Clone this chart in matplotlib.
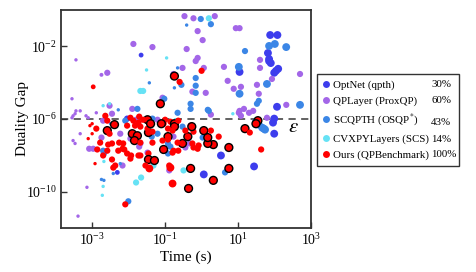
import matplotlib
matplotlib.use("Agg")
import matplotlib.pyplot as plt
from matplotlib.lines import Line2D
from matplotlib.ticker import NullLocator, FixedLocator, LogFormatterSciNotation

plt.rcParams['font.family'] = ['Liberation Serif', 'DejaVu Serif']
plt.rcParams['mathtext.fontset'] = 'stix'
plt.rcParams['axes.unicode_minus'] = False

S, M, L = 6, 20, 32

# ---------------- data ----------------
optnet_time = [2.2e-2, 76, 120, 66, 71, 79, 98, 126, 11, 117, 98, 91, 98, 3.4, 27.5, 1.15, 4.9e-3, 9.1e-3, 71, 110]
optnet_gap = [3.3e-3, 4.2e-2, 4.2e-2, 4.3e-3, 2.0e-3, 1.2e-3, 3.5e-4, 5.8e-4, 3.9e-4, 4.7e-6, 1.05e-6, 6.3e-7,
              1.55e-7, 9.8e-9, 2.45e-9, 8.9e-10, 1.15e-9, 1.05e-6, 1.55e-3, 4.5e-4]
optnet_size = [12, L, L, L, L, L, L, L, L, L, L, L, L, L, L, L, 12, M, L, L]

qplayer_time = [3.4e-1, 6.0e-1, 2.3, 8.7, 11, 7.8e-1, 1.07, 3.9e-1, 1.35e-2, 4.5e-2, 3.6e-4, 7.8e-1, 6.9e-1,
                2.6e-3, 1.8e-3, 3.0e-1, 1.7e-1, 1.15, 4.1, 40, 40, 500, 5.2, 7.6, 12, 33, 85, 37, 5.6e-1, 1.3,
                2.8e-4, 26, 11, 14.5, 10.5, 12, 20, 210, 1.8, 62, 29, 3.0e-3, 3.0e-4, 3.4e-4, 4.7e-4, 3.6e-4,
                2.8e-4, 6.8e-4, 7.8e-4, 1.3e-3, 3.5e-3, 1.26e-2, 2.0e-3, 5.9e-3, 1.12e-2, 4.7e-4, 3.0e-4, 3.4e-4,
                1.8e-3, 1.07e-3, 8.3e-4, 2.1e-2, 6.2e-2, 1.7e-1, 4.7e-1, 3.6e-1, 1.95e-2, 3.3e-2, 1.3e-1, 6.8e-3,
                7.2e-4, 4.1e-4, 8.5e-2, 1.6e-2]
qplayer_gap = [4.6e-1, 3.5e-1, 4.6e-1, 1e-1, 1e-1, 6.9e-2, 2.2e-2, 7.1e-3, 1.35e-2, 9.1e-3, 1.8e-3, 2.3e-3,
               1.55e-3, 3.5e-4, 2.7e-4, 6.5e-4, 3.0e-4, 6.5e-4, 7.4e-4, 1.8e-3, 6.5e-4, 3.0e-4, 1.26e-4, 4.6e-5,
               5.9e-5, 7.6e-5, 1.6e-4, 2.45e-5, 3.2e-5, 2.75e-5, 1.3e-5, 2.8e-6, 2.8e-6, 3.6e-6, 2.2e-6, 1.5e-6,
               2.2e-6, 6.0e-6, 1.74e-6, 1.17e-6, 5.5e-7, 5.4e-6, 1.5e-6, 1.95e-6, 2.8e-6, 2.8e-6, 1.17e-6, 1.5e-6,
               1.17e-6, 2.2e-6, 1.95e-6, 3.6e-6, 8.1e-7, 1.55e-7, 8.3e-8, 1.55e-7, 6.5e-8, 4.5e-8, 9.5e-8, 2.3e-8,
               2.3e-8, 4.5e-8, 9.1e-7, 1.07e-7, 4.5e-8, 2.7e-8, 3.0e-8, 1.41e-8, 1.48e-9, 2.75e-9, 1.74e-10,
               4.5e-12, 1.48e-5, 9.1e-7]
qplayer_size = [M, M, M, M, M, M, M, M, M, M, S, M, M, M, 8, M, M, M, M, M, M, M, M, M, M, M, M, M, M, M,
                S, M, M, M, M, M, M, M, M, M, M, M, S, S, S, S, S, S, S, S, M, M, M, M, M, S, S, S,
                M, M, M, M, M, M, M, M, M, M, M, M, S, S, M, M]

scqpth_time = [3.9e-1, 9.5e-1, 1.8, 15.5, 71, 102, 209, 10.5, 2.2e-1, 6.9e-1, 6.9e-1, 3.7e-2, 2.8e-1, 1.8e-1,
               62, 11, 6.9e-1, 9.5e-2, 33, 37, 500, 5.0e-1, 5.0e-1, 1.48, 2.2e-1, 1.74e-2, 5.2e-3, 31, 37, 46,
               51, 55, 4.4, 1.07, 1.23, 3.0e-1, 3.1e-2, 4.5e-2, 4.0e-2, 6.2e-2, 4.3e-2, 1.2e-1, 1.4e-1, 1.2e-1,
               1.26e-2, 8.1e-3, 2.0e-3, 2.1e-3, 5.9e-3, 3.8e-3, 1.8e-3, 2.1e-3, 9.8e-3, 3.2e-3, 1.58]
scqpth_gap = [1.48e-1, 3.2e-1, 1.66e-1, 5.5e-3, 1.05e-2, 1.35e-2, 9.1e-3, 7.4e-4, 6.5e-4, 1.8e-4, 6.8e-5,
              9.8e-5, 7.6e-5, 5.2e-5, 8.5e-5, 2.45e-5, 2.75e-5, 1.3e-5, 6.9e-6, 1e-5, 6.0e-6, 6.9e-6, 3.6e-6,
              3.2e-6, 2.2e-6, 3.6e-6, 3.2e-6, 7.1e-7, 4.9e-7, 3.3e-7, 2.95e-7, 2.6e-7, 1.15e-9, 9.5e-8, 1.55e-7,
              3.8e-7, 9.1e-7, 1.05e-6, 4.3e-7, 1.55e-7, 1.07e-7, 4.5e-8, 3.0e-8, 1.26e-8, 1.2e-7, 8.1e-7, 1.8e-8,
              1.26e-8, 3.5e-9, 1e-9, 4.7e-10, 4.2e-10, 2.95e-11, 5.5e-7, 2.8e-6]
scqpth_size = [S, M, M, M, L, L, L, L, S, M, M, S, M, S, L, L, M, M, M, M, L, M, M, M, M, M, S, L, L, L,
               L, L, M, M, M, M, M, M, M, M, M, M, M, M, M, M, M, M, S, S, S, S, M, S, M]

cvxpy_time = [1.58, 1.1e-1, 3.1e-2, 2.1e-2, 2.5e-2, 2.0e-3, 3.0e-3, 7.2, 1.9e-1, 3.2e-1, 4.8e-2, 2.2e-2, 1.6e-2,
              2.0e-3, 2.1e-3, 2.0e-3, 1.9e-3]
cvxpy_gap = [3.5e-1, 2.3e-3, 5.0e-4, 3.5e-5, 3.5e-5, 5.4e-6, 6.9e-6, 1.95e-6, 9.1e-7, 1.48e-9, 2.75e-9, 6.0e-10,
             3.2e-10, 9.8e-9, 4.6e-9, 1.95e-10, 6.3e-11]
cvxpy_size = [M, S, S, M, M, S, S, S, S, M, M, M, M, S, S, S, S]

ours_time = [1.07e-3, 1.0, 1.8e-1, 2.5e-1, 7.4e-2, 4.1e-3, 2.6e-3, 1.12e-2, 1.35e-2, 9.1e-3, 1.95e-2, 1.0e-3,
             8.7e-4, 1.0e-3, 7.8e-4, 1.3e-3, 1.26e-2, 1.74e-2, 1.45e-2, 2.6e-3, 2.3e-3, 1.66e-3, 2.75e-3, 1.38e-3,
             3.5e-3, 2.6e-3, 5.2e-3, 6.8e-3, 9.1e-3, 1.17e-2, 5.5e-3, 7.1e-3, 2.0e-3, 3.5e-3, 4.3e-3, 1.2e-3,
             1.12e-2, 1.86e-2, 7.6e-3, 3.0e-3, 3.8e-3, 3.7e-2, 1.4e-1, 5.0e-1, 5.6, 2.1, 1.6e-1, 4.4e-1, 8.1e-3,
             43, 5.6, 2.1, 1.48, 1.48, 1.15, 1.8, 2.95, 15.5, 21, 35, 31, 6.0e-1, 5.0e-1, 4.2e-1, 3.0e-1,
             1.6e-1, 9.1e-2, 1.3e-1, 6.0e-1, 8.3e-1, 7.8e-1, 1.0e-1, 1.4e-1, 9.1e-2, 7.9e-2, 1.8e-1, 1.8e-1,
             2.3e-1, 1.6e-1, 1.2e-1, 1.2e-1, 3.6e-1, 5.4e-1, 5.6e-1, 2.3e-1, 1.7e-1, 3.5e-2, 3.5e-2, 3.3e-2,
             4.5e-2, 1.5e-2, 2.1e-2, 4.5e-2, 3.5e-2, 3.5e-2, 5.1e-2, 2.1e-2, 2.9e-2, 3.3e-2, 4.0e-2, 1.86e-2,
             2.1e-2, 2.5e-2, 8.5e-2, 1.2e-1, 2.2e-1]
ours_gap = [5.9e-5, 4.5e-4, 2.3e-4, 1.1e-4, 6.9e-6, 4.9e-7, 2.3e-7, 1.17e-6, 8.1e-7, 4.3e-7, 1.35e-6, 5.5e-7,
            4.3e-7, 1.55e-7, 8.3e-8, 2.95e-7, 1.55e-7, 1.2e-7, 6.5e-8, 8.1e-7, 1.5e-6, 5.0e-8, 3.9e-8, 2.1e-8,
            4.5e-8, 1.8e-8, 1.8e-8, 2.3e-8, 1.26e-8, 9.8e-9, 5.0e-8, 4.5e-8, 9.8e-9, 5.9e-9, 2.75e-9, 3.5e-9,
            6.6e-9, 9.8e-9, 2.1e-8, 1.55e-7, 2.1e-9, 1.9e-9, 2.1e-9, 1.9e-9, 1.9e-9, 4.2e-10, 2.8e-10, 1.5e-10,
            2.0e-11, 2.1e-8, 2.7e-8, 3.9e-8, 4.5e-8, 9.5e-8, 2.3e-7, 2.3e-7, 1.07e-7, 2.95e-7, 1.8e-7, 8.1e-7,
            5.5e-7, 2.0e-7, 4.3e-7, 1.07e-7, 4.5e-8, 1.41e-8, 2.1e-8, 2.75e-9, 2.7e-8, 3.5e-8, 2.3e-8, 9.1e-7,
            7.1e-7, 5.5e-7, 5.5e-7, 5.5e-7, 3.8e-7, 8.1e-7, 2.3e-7, 2.95e-7, 1.07e-7, 2.3e-7, 3.8e-7, 4.5e-8,
            1.8e-8, 1.8e-8, 1.55e-7, 1.8e-7, 2.95e-7, 2.0e-7, 4.3e-7, 5.0e-8, 5.0e-8, 1.26e-8, 5.9e-9, 5.2e-9,
            9.8e-9, 2.75e-9, 9.1e-7, 5.5e-7, 6.3e-7, 3.8e-7, 9.1e-7, 6.5e-8, 7.4e-8, 5.0e-8]
ours_size = [12, M, L, M, L, L, L, M, M, M, M, S, S, S, S, M, L, L, L, M, M, M, M, M, M, M, M, M, M, M,
             M, M, M, M, M, S, M, M, M, M, M, L, L, L, L, L, L, L, M, M, L, L, L, L, L, M, M, L, M, L,
             L, M, M, L, L, M, L, M, M, M, M, M, M, M, L, L, L, M, M, M, L, M, L, M, M, M, M, L, M, M,
             M, M, M, M, L, L, M, M, L, L, M, M, M, M, M, M]
ours_outlined = [0, 0, 1, 0, 1, 1, 1, 0, 0, 0, 0, 0, 0, 0, 0, 0, 1, 1, 1, 0, 0, 0, 0, 0, 0, 0, 0, 0, 0, 0,
                 0, 0, 0, 0, 0, 0, 0, 0, 0, 0, 0, 0, 0, 1, 1, 1, 0, 1, 0, 0, 1, 1, 1, 1, 1, 0, 0, 1, 0, 1,
                 1, 0, 0, 1, 1, 0, 1, 0, 0, 0, 0, 0, 0, 0, 1, 1, 1, 0, 0, 0, 1, 0, 1, 0, 0, 0, 0, 1, 0, 0,
                 0, 0, 0, 0, 1, 1, 0, 0, 1, 1, 0, 0, 0, 0, 0, 0]

labels = ['OptNet (qpth)', 'QPLayer (ProxQP)', 'SCQPTH (OSQP$^{*}$)', 'CVXPYLayers (SCS)', 'Ours (QPBenchmark)']
percents = ['30%', '60%', '43%', '14%', '100%']
colors = ['#3d3ded', '#a366e8', '#3b86e6', '#66e2f5', '#ff0000']
eps_level = 1e-6

# ---------------- figure ----------------
W, H = 476, 272
fig = plt.figure(figsize=(W / 100, H / 100), dpi=100)
ax = fig.add_axes([61 / W, 1 - 228 / H, 250 / W, 218 / H])

ax.axhline(eps_level, color='#555555', ls=(0, (4, 3)), lw=1.3, zorder=1)

ax.scatter(optnet_time, optnet_gap, s=optnet_size, c=colors[0], linewidths=0, zorder=2)
ax.scatter(qplayer_time, qplayer_gap, s=qplayer_size, c=colors[1], linewidths=0, zorder=2)
ax.scatter(scqpth_time, scqpth_gap, s=scqpth_size, c=colors[2], linewidths=0, zorder=2)
ax.scatter(cvxpy_time, cvxpy_gap, s=cvxpy_size, c=colors[3], linewidths=0, zorder=2)
ax.scatter(ours_time, ours_gap, s=ours_size, c=colors[4],
           edgecolors=['black' if o else 'none' for o in ours_outlined],
           linewidths=[1.0 if o else 0 for o in ours_outlined], zorder=3)

ax.set_xscale('log')
ax.set_yscale('log')
ax.set_xlim(1.4e-4, 1e3)
ax.set_ylim(1e-12, 1)
ax.xaxis.set_major_locator(FixedLocator([1e-3, 1e-1, 1e1, 1e3]))
ax.yaxis.set_major_locator(FixedLocator([1e-2, 1e-6, 1e-10]))
ax.xaxis.set_major_formatter(LogFormatterSciNotation())
ax.yaxis.set_major_formatter(LogFormatterSciNotation())
ax.xaxis.set_minor_locator(NullLocator())
ax.yaxis.set_minor_locator(NullLocator())
ax.tick_params(direction='in', length=4, width=1, labelsize=10, colors='#333333', labelcolor='black', pad=3)
for sp in ax.spines.values():
    sp.set_linewidth(1.3)
    sp.set_color('#333333')

ax.set_xlabel('Time (s)', fontsize=11, labelpad=2)
ax.set_ylabel('Duality Gap', fontsize=11)
ax.yaxis.set_label_coords(-0.128, 0.5)
ax.text(0.928, 0.463, r'$\epsilon$', transform=ax.transAxes, fontsize=15, ha='center', va='center')

handles = [Line2D([], [], ls='none', marker='o', ms=5, mfc=c, mec='none') for c in colors]
leg = fig.legend(handles, labels, loc='upper left',
                 bbox_to_anchor=(317 / W, 0, 142 / W, 1 - 74 / H), mode='expand', borderaxespad=0,
                 fontsize=7.8, frameon=True, fancybox=False, edgecolor='black',
                 handlelength=0.6, handletextpad=0.35,
                 borderpad=0.55, labelspacing=0.55)
leg.get_frame().set_linewidth(1.0)

# percentages aligned with each legend row
fig.canvas.draw()
renderer = fig.canvas.get_renderer()
for txt, pct in zip(leg.get_texts(), percents):
    bb = txt.get_window_extent(renderer)
    yc = (bb.y0 + bb.y1) / 2
    if '$' in txt.get_text():
        yc = bb.y0 + 5.5
    fig.text(431 / W, yc / H, pct, fontsize=7.8, ha='left', va='center', zorder=10)

fig.savefig('out.png', dpi=100)
